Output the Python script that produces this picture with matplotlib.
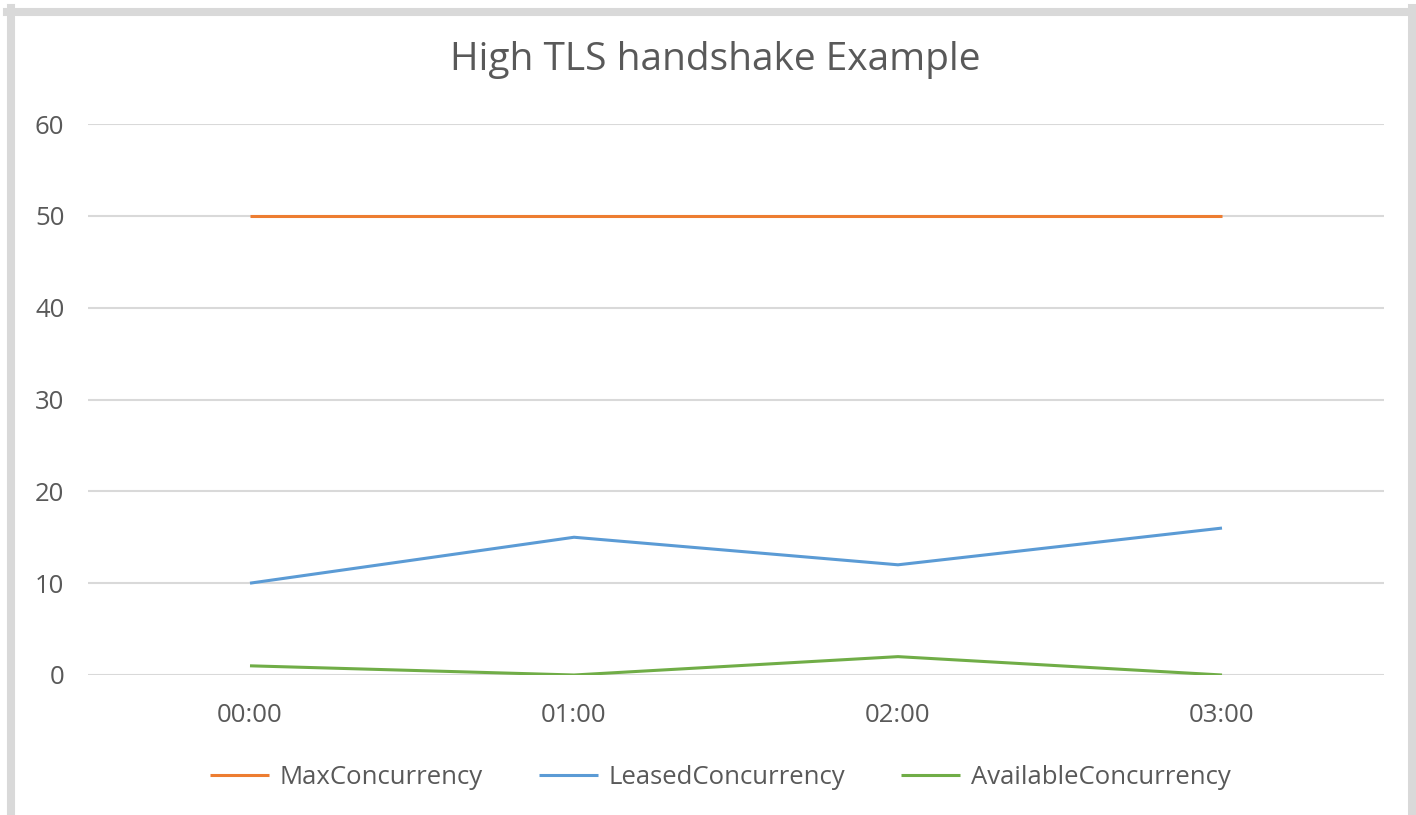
import matplotlib
matplotlib.use("Agg")
import matplotlib.pyplot as plt
from matplotlib.lines import Line2D

categories = ["00:00", "01:00", "02:00", "03:00"]
max_conc = [50, 50, 50, 50]
leased_conc = [10, 15, 12, 16]
available_conc = [1, 0, 2, 0]
y_ticks = [0, 10, 20, 30, 40, 50, 60]

plt.rcParams['font.family'] = ['Open Sans', 'DejaVu Sans']

W, H = 1416, 815
fig = plt.figure(figsize=(W / 100, H / 100), dpi=100)
ax = fig.add_axes([88 / W, 1 - 675 / H, (1384 - 88) / W, (675 - 124) / H])

x = list(range(len(categories)))
ax.plot(x, max_conc, color="#ED7D31", lw=2.2, label="MaxConcurrency", solid_capstyle="butt")
ax.plot(x, leased_conc, color="#5B9BD5", lw=2.2, label="LeasedConcurrency", solid_capstyle="butt")
ax.plot(x, available_conc, color="#70AD47", lw=2.2, label="AvailableConcurrency", solid_capstyle="butt")

ax.set_xlim(-0.5, len(categories) - 0.5)
ax.set_ylim(0, 60)
ax.set_yticks(y_ticks)
ax.set_xticks(x)
ax.set_xticklabels(categories)
ax.yaxis.grid(True, color="#D9D9D9", lw=1.5)
ax.set_axisbelow(True)
for s in ax.spines.values():
    s.set_visible(False)
ax.tick_params(length=0, labelsize=18.5, colors="#595959")
ax.tick_params(axis='y', pad=17)
ax.tick_params(axis='x', pad=20)

fig.text(715 / W, 1 - 60 / H, "High TLS handshake Example", ha="center", va="center",
         fontsize=28, color="#595959")

leg = fig.legend(loc="center", bbox_to_anchor=(720 / W, 1 - 777 / H), ncol=3, frameon=False,
                 fontsize=18.5, labelcolor="#595959", handlelength=2.3, columnspacing=2.2,
                 handletextpad=0.4)

# outer gray border
bc = "#D9D9D9"
fig.add_artist(Line2D([10.5 / W, 10.5 / W], [0, 1 - 8 / H], color=bc, lw=5.8, transform=fig.transFigure))
fig.add_artist(Line2D([7 / W, 1416 / W], [1 - 11.5 / H, 1 - 11.5 / H], color=bc, lw=5.8, transform=fig.transFigure))
fig.add_artist(Line2D([1411.5 / W, 1411.5 / W], [0, 1 - 8 / H], color=bc, lw=6.5, transform=fig.transFigure))

fig.savefig("out.png", dpi=100)
